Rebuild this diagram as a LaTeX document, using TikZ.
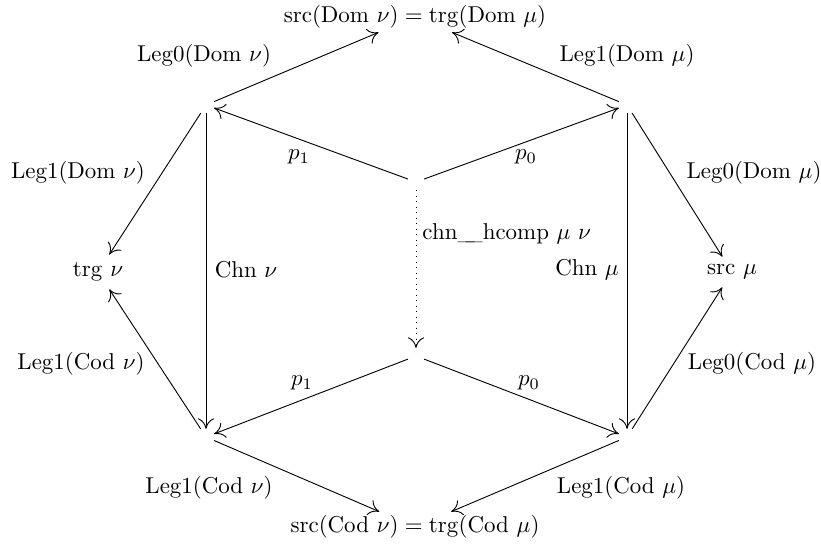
\documentclass[tikz,border=0pt]{standalone}
\usetikzlibrary{arrows.meta}
\begin{document}
\begin{tikzpicture}[x=0.436pt,y=-0.436pt,
  vtx/.style={inner sep=3.33pt},
  obj/.style={inner sep=3.33pt},
  big/.style={inner sep=1.5pt},
  lbl/.style={inner sep=0pt},
  arr/.style={-{Computer Modern Rightarrow[length=4.6pt,width=7pt,line width=0.4pt]}, line width=0.4pt},
  dotarr/.style={arr, dotted}]
\useasboundingbox (0,0) rectangle (821,546);
% objects
\node[big] (T) at (415,17) {$\mathrm{src}(\mathrm{Dom}\ \nu) = \mathrm{trg}(\mathrm{Dom}\ \mu)$};
\node[big] (B) at (415,527) {$\mathrm{src}(\mathrm{Cod}\ \nu) = \mathrm{trg}(\mathrm{Cod}\ \mu)$};
\node[vtx] (L1) at (206,105) {};
\node[vtx] (R1) at (627,105) {};
\node[vtx] (C1) at (416,182) {};
\node[vtx] (C2) at (416,356) {};
\node[vtx] (L2) at (206,437) {};
\node[vtx] (R2) at (627,437) {};
\node[obj] (TN) at (98,272) {$\mathrm{trg}\ \nu$};
\node[obj] (SM) at (732,272) {$\mathrm{src}\ \mu$};
% arrows
\draw[arr] (L1) -- (T);
\draw[arr] (R1) -- (T);
\draw[arr] (C1) -- (L1);
\draw[arr] (C1) -- (R1);
\draw[arr] (L1) -- (TN);
\draw[arr] (R1) -- (SM);
\draw[arr] (L1) -- (L2);
\draw[arr] (R1) -- (R2);
\draw[dotarr] (C1) -- (C2);
\draw[arr] (L2) -- (TN);
\draw[arr] (R2) -- (SM);
\draw[arr] (C2) -- (L2);
\draw[arr] (C2) -- (R2);
\draw[arr] (L2) -- (B);
\draw[arr] (R2) -- (B);
% labels
\node[lbl] (l1) at (204,56) {$\mathrm{Leg0}(\mathrm{Dom}\ \nu)$};
\node[lbl] (l2) at (627,56) {$\mathrm{Leg1}(\mathrm{Dom}\ \mu)$};
\node[lbl] (l3) at (299,157) {$p_1$};
\node[lbl] (l4) at (526,157) {$p_0$};
\node[lbl] (l5) at (78,173) {$\mathrm{Leg1}(\mathrm{Dom}\ \nu)$};
\node[lbl] (l6) at (754,173) {$\mathrm{Leg0}(\mathrm{Dom}\ \mu)$};
\node[lbl] (l7) at (246,270) {$\mathrm{Chn}\ \nu$};
\node[lbl] (l8) at (587,270) {$\mathrm{Chn}\ \mu$};
\node[lbl, anchor=west] (l9) at (422,234) {chn\_\kern-4pt\_hcomp $\mu$ $\nu$};
\node[lbl] (l10) at (81,364) {$\mathrm{Leg1}(\mathrm{Cod}\ \nu)$};
\node[lbl] (l11) at (752,364) {$\mathrm{Leg0}(\mathrm{Cod}\ \mu)$};
\node[lbl] (l12) at (302,383) {$p_1$};
\node[lbl] (l13) at (529,383) {$p_0$};
\node[lbl] (l14) at (209,488) {$\mathrm{Leg1}(\mathrm{Cod}\ \nu)$};
\node[lbl] (l15) at (621,488) {$\mathrm{Leg1}(\mathrm{Cod}\ \mu)$};
\end{tikzpicture}
\end{document}
